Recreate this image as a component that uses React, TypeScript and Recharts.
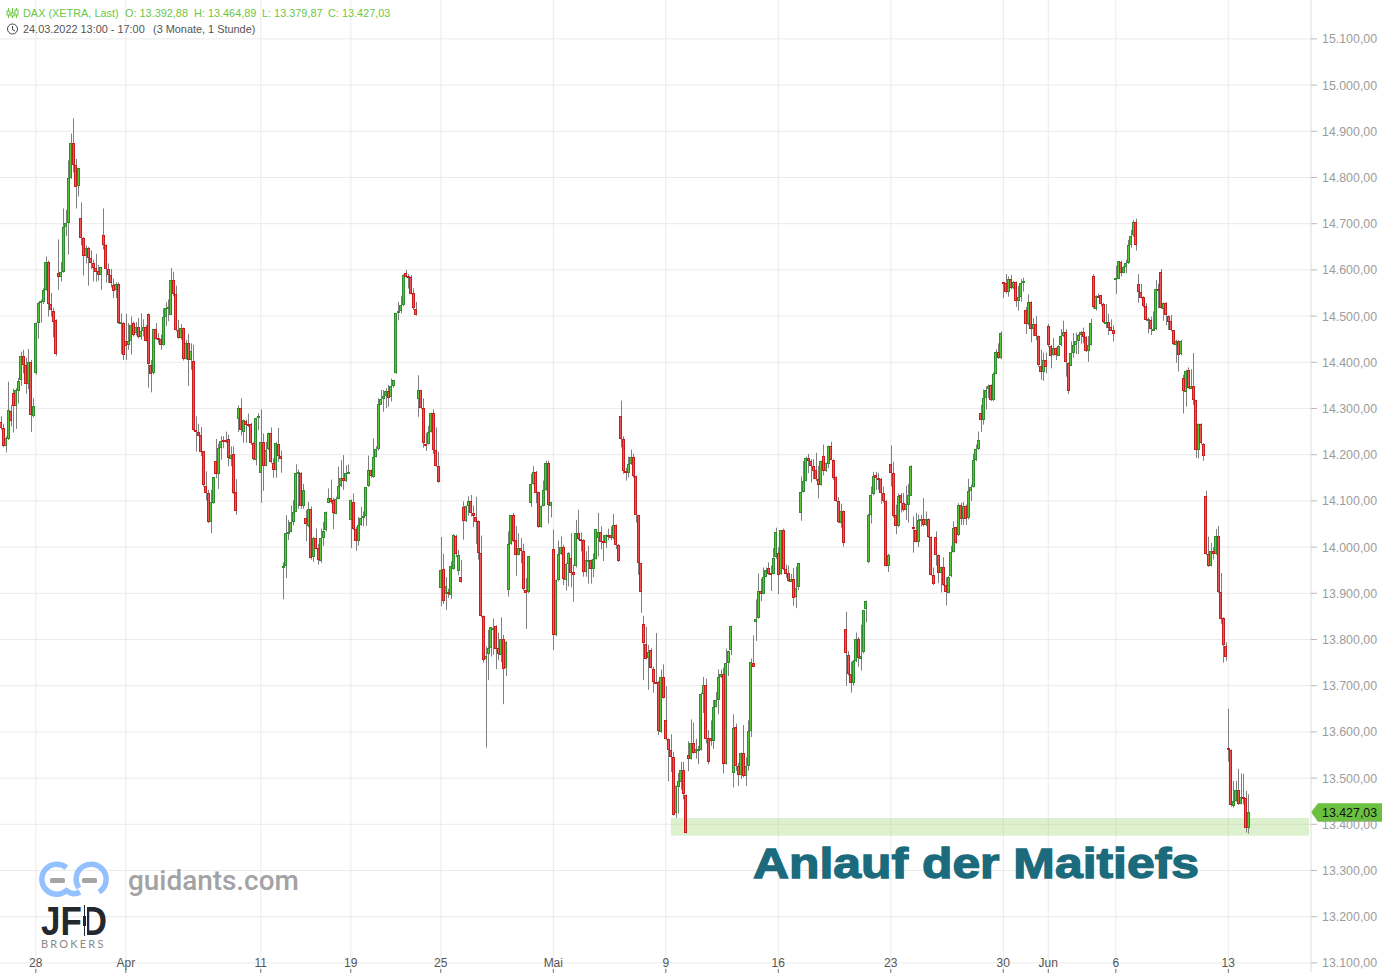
import React from 'react';
import { ComposedChart, Bar, XAxis, YAxis, CartesianGrid, ReferenceArea, ReferenceLine } from 'recharts';

type Q = [number, number, number, number]; // open, high, low, close

const lead: Q[] = [
[14270,14283,14254,14257],[14257,14267,14216,14218],[14218,14240,14205,14236],[14235,14358,14232,14297],[14295,14308,14261,14274],
[14333,14343,14248,14304],[14304,14344,14256,14339],[14339,14366,14311,14360],[14360,14423,14349,14413],[14413,14427,14376,14393],
[14394,14410,14332,14352],[14352,14429,14342,14400],[14400,14405,14249,14285],[14285,14322,14281,14306],
];
const weekMar28: Q[] = [
[14376,14486,14373,14485],[14485,14530,14451,14528],[14528,14536,14486,14532],[14532,14560,14526,14557],[14557,14629,14555,14617],[14617,14620,14499,14526],[14526,14550,14499,14512],[14512,14518,14454,14489],[14491,14493,14414,14417],
[14594,14666,14557,14586],[14586,14617,14575,14596],[14596,14733,14594,14693],[14693,14730,14673,14702],[14702,14837,14633,14799],[14799,14895,14797,14875],[14875,14928,14811,14828],[14828,14840,14733,14781],[14781,14820,14759,14820],
[14713,14746,14653,14669],[14669,14671,14588,14630],[14630,14653,14614,14648],[14648,14650,14566,14626],[14626,14642,14602,14615],[14615,14622,14575,14604],[14604,14635,14575,14596],[14597,14611,14577,14588],[14588,14606,14557,14606],
[14675,14733,14644,14653],[14653,14655,14573,14602],[14602,14614,14572,14588],[14588,14602,14562,14570],[14568,14581,14539,14556],[14556,14573,14539,14569],[14569,14573,14483,14485],[14483,14506,14418,14487],[14485,14487,14405,14415],
[14447,14505,14405,14437],[14437,14485,14427,14446],[14446,14499,14417,14480],[14485,14488,14456,14460],[14463,14487,14458,14476],[14476,14496,14452,14454],[14454,14506,14449,14467],[14467,14493,14456,14476],[14476,14481,14445,14446],
];
const weekApr4: Q[] = [
[14504,14506,14345,14395],[14395,14405,14335,14376],[14376,14472,14374,14472],[14472,14485,14449,14451],[14452,14463,14441,14450],[14450,14460,14427,14437],[14437,14517,14436,14498],[14498,14530,14478,14517],[14517,14536,14489,14519],
[14504,14604,14503,14579],[14579,14596,14543,14548],[14548,14566,14467,14469],[14469,14492,14451,14452],[14452,14483,14449,14474],[14474,14475,14404,14407],[14407,14448,14406,14441],[14441,14462,14349,14404],[14404,14441,14384,14424],
[14402,14438,14252,14253],[14254,14283,14207,14250],[14250,14267,14240,14241],[14243,14260,14197,14207],[14207,14208,14131,14133],[14133,14164,14101,14117],[14117,14124,14052,14054],[14054,14124,14030,14097],[14096,14152,14094,14152],
[14186,14234,14149,14157],[14157,14224,14126,14214],[14214,14240,14189,14229],[14231,14240,14214,14228],[14231,14250,14225,14229],[14233,14243,14175,14191],[14191,14218,14175,14199],[14202,14218,14115,14117],[14119,14147,14070,14077],
[14276,14307,14249,14300],[14300,14322,14242,14252],[14249,14276,14226,14276],[14274,14276,14226,14265],[14267,14289,14260,14266],[14267,14269,14221,14226],[14226,14227,14188,14191],[14189,14280,14177,14280],[14281,14290,14253,14284],
];
const weekApr11: Q[] = [
[14161,14298,14096,14228],[14228,14246,14122,14176],[14176,14228,14175,14211],[14211,14248,14210,14246],[14246,14259,14181,14183],[14183,14192,14150,14168],[14168,14227,14150,14226],[14224,14258,14185,14198],[14198,14209,14161,14191],
[13955,13967,13887,13960],[13959,14069,13933,14031],[14031,14059,14015,14033],[14033,14090,14032,14055],[14055,14102,14047,14077],[14077,14179,14076,14161],[14161,14168,14083,14162],[14161,14162,14083,14089],[14089,14137,14083,14124],
[14062,14080,14013,14048],[14047,14098,14043,14083],[14083,14088,13973,13978],[13978,14022,13968,14020],[14020,14040,13995,13997],[13997,14007,13962,13970],[13970,14040,13966,14020],[14020,14054,14002,14035],[14035,14077,14034,14075],
[14096,14127,14095,14107],[14107,14146,14094,14099],[14103,14107,14039,14074],[14072,14109,14071,14104],[14104,14174,14103,14133],[14133,14188,14130,14150],[14150,14199,14124,14143],[14143,14177,14141,14161],[14161,14179,14160,14163],
];
const weekApr19: Q[] = [
[14057,14103,13998,14101],[14098,14116,14037,14039],[14040,14044,13992,14013],[14013,14065,14003,14047],[14047,14087,14046,14062],[14062,14077,14045,14067],[14067,14130,14046,14130],[14132,14198,14130,14166],[14166,14168,14150,14152],
[14152,14235,14150,14195],[14195,14218,14194,14213],[14211,14322,14209,14309],[14309,14340,14308,14321],[14321,14340,14293,14327],[14327,14344,14301,14337],[14337,14351,14304,14322],[14324,14365,14315,14348],[14347,14362,14345,14361],
[14376,14506,14375,14506],[14506,14531,14491,14511],[14511,14543,14506,14523],[14523,14590,14522,14588],[14593,14600,14583,14585],[14586,14591,14560,14584],[14585,14589,14547,14549],[14549,14560,14513,14516],[14515,14531,14501,14502],
[14320,14372,14282,14339],[14339,14340,14299,14301],[14300,14322,14215,14224],[14224,14247,14208,14223],[14224,14262,14222,14249],[14249,14291,14248,14291],[14291,14298,14202,14211],[14211,14259,14174,14176],[14176,14206,14139,14141],
];
const weekApr25: Q[] = [
[13911,14022,13872,13951],[13953,13986,13877,13883],[13899,13935,13864,13916],[13903,13910,13890,13898],[13897,13969,13888,13960],[13953,14028,13951,14026],[14025,14027,13978,13987],[13948,13994,13939,13982],[13935,13972,13923,13924],
[14087,14099,14016,14056],[14056,14090,14054,14088],[14088,14110,14068,14099],[14100,14113,14066,14073],[14073,14090,14043,14066],[14066,14109,14007,14056],[14056,14058,13973,13987],[13987,14025,13848,13850],[13850,13852,13750,13754],
[13758,13785,13566,13764],[13767,13821,13712,13781],[13781,13827,13763,13826],[13824,13845,13767,13825],[13830,13831,13736,13781],[13781,13815,13755,13767],[13767,13848,13751,13801],[13801,13810,13660,13737],[13737,13796,13721,13794],
[13907,14034,13893,14006],[14006,14070,14005,14069],[14069,14074,14011,14013],[14015,14046,13938,13983],[13983,14030,13982,13998],[13998,14020,13965,13991],[13991,14007,13906,13908],[13908,13933,13823,13902],[13902,13980,13900,13980],
[14095,14159,14087,14137],[14137,14175,14135,14163],[14163,14165,14095,14118],[14119,14120,14042,14043],[14043,14090,14042,14089],[14089,14144,14088,14124],[14124,14187,14122,14182],[14182,14187,14051,14092],[14090,14098,14064,14098],
];
const weekMay2: Q[] = [
[13996,14038,13777,13809],[13809,13930,13807,13928],[13928,14014,13926,13985],[13985,14023,13983,14000],[14000,14005,13918,13930],[13930,13966,13906,13964],[13964,13989,13915,13987],[13977,14030,13913,13945],[13946,13962,13882,13939],
[13958,14059,13956,14030],[14030,14081,14015,14017],[14017,14032,13991,14014],[14016,14017,13936,13946],[13946,13991,13936,13971],[13970,14003,13921,13971],[13971,13973,13921,13952],[13952,13986,13935,13974],[13974,14039,13973,14039],
[14021,14074,13980,14033],[14033,14045,13995,14012],[14013,14027,13970,14009],[14009,14028,13998,14027],[14027,14040,14015,14025],[14026,14045,14015,14019],[14019,14072,14017,14047],[14047,14049,13996,14004],[14004,14007,13968,13970],
[14283,14317,14216,14234],[14234,14240,14159,14165],[14165,14172,14144,14160],[14160,14196,14151,14180],[14180,14211,14178,14195],[14195,14202,14150,14153],[14154,14155,14053,14069],[14069,14070,13940,13965],[13965,13966,13858,13902],
[13833,13851,13712,13791],[13791,13827,13757,13759],[13759,13788,13691,13772],[13777,13781,13737,13739],[13737,13741,13685,13709],[13709,13814,13705,13706],[13708,13710,13593,13602],[13600,13735,13598,13719],[13719,13746,13672,13674],
];
const weekMay9: Q[] = [
[13626,13699,13582,13584],[13585,13586,13493,13561],[13561,13595,13513,13545],[13546,13557,13419,13421],[13423,13484,13414,13482],[13480,13511,13423,13493],[13493,13535,13475,13518],[13518,13535,13454,13465],[13464,13465,13380,13381],
[13550,13580,13515,13541],[13541,13627,13540,13576],[13576,13620,13553,13554],[13554,13585,13542,13563],[13561,13570,13530,13563],[13561,13685,13560,13683],[13682,13719,13641,13702],[13702,13715,13575,13585],[13587,13604,13530,13535],
[13587,13625,13570,13580],[13580,13669,13563,13654],[13654,13686,13653,13670],[13670,13735,13638,13719],[13719,13735,13717,13726],[13726,13739,13510,13531],[13531,13780,13529,13749],[13749,13776,13721,13776],[13776,13830,13766,13829],
[13511,13638,13480,13609],[13610,13618,13516,13526],[13526,13533,13483,13506],[13506,13555,13498,13554],[13554,13615,13502,13504],[13504,13545,13483,13526],[13526,13625,13516,13602],[13602,13759,13589,13751],[13750,13809,13740,13741],
[13838,13887,13797,13845],[13847,13943,13845,13905],[13905,13932,13883,13899],[13899,13956,13898,13936],[13936,13956,13935,13951],[13954,13967,13940,13941],[13943,13960,13905,13940],[13943,13998,13941,13977],[13977,14042,13975,14032],
];
const weekMay16: Q[] = [
[13988,14000,13898,13941],[13941,14037,13940,14036],[14036,14040,13950,13951],[13952,13962,13934,13942],[13943,13960,13925,13925],[13925,13942,13924,13932],[13932,13955,13873,13890],[13892,13958,13868,13912],[13912,13966,13907,13965],
[14073,14153,14057,14119],[14119,14186,14118,14143],[14143,14196,14142,14193],[14193,14202,14160,14186],[14186,14190,14140,14175],[14176,14190,14147,14166],[14167,14204,14143,14147],[14147,14176,14105,14134],[14134,14187,14133,14186],
[14197,14222,14155,14164],[14164,14183,14163,14181],[14181,14220,14171,14219],[14219,14228,14188,14189],[14189,14190,14146,14151],[14152,14153,14098,14099],[14099,14108,14052,14053],[14053,14094,14042,14078],[14078,14079,14001,14009],
[13822,13860,13700,13770],[13766,13775,13722,13724],[13725,13752,13685,13705],[13705,13756,13700,13753],[13753,13815,13751,13801],[13801,13805,13741,13759],[13759,13832,13733,13765],[13772,13864,13770,13863],[13866,13884,13837,13883],
[13967,14072,13965,14069],[14069,14131,14051,14113],[14113,14163,14112,14153],[14156,14163,14124,14149],[14150,14161,14124,14147],[14148,14150,14094,14117],[14117,14131,14097,14100],[14100,14101,13958,13959],[13959,13986,13946,13983],
];
const weekMay23: Q[] = [
[14180,14220,14131,14160],[14160,14185,14064,14066],[14069,14092,14028,14045],[14045,14116,14043,14110],[14113,14117,14075,14095],[14095,14117,14077,14079],[14079,14133,14059,14093],[14090,14137,14053,14112],[14112,14177,14111,14176],
[14043,14066,13988,14039],[14037,14074,14010,14012],[14012,14070,14000,14059],[14058,14070,14045,14061],[14060,14106,14045,14048],[14048,14077,14045,14060],[14060,14062,14020,14022],[14022,14023,13938,13939],[13939,13956,13918,13919],
[14022,14034,13960,13983],[13983,13984,13922,13944],[13944,13958,13902,13957],[13957,13978,13916,13918],[13918,13935,13874,13902],[13901,13937,13900,13936],[13936,14003,13935,13989],[13989,14056,13988,14041],[14043,14044,14007,14009],
[14026,14095,14024,14091],[14091,14096,14048,14060],[14060,14098,14048,14088],[14089,14092,14048,14060],[14062,14148,14060,14121],[14121,14135,14100,14130],[14130,14202,14129,14189],[14189,14222,14186,14212],[14212,14250,14210,14232],
];
const weekMay30: Q[] = [
[14290,14308,14249,14275],[14275,14341,14265,14323],[14323,14348,14298,14341],[14341,14352,14323,14348],[14350,14352,14316,14318],[14318,14378,14316,14375],[14375,14428,14374,14423],[14423,14441,14407,14409],[14409,14467,14407,14464],
[14573,14574,14539,14571],[14571,14591,14549,14551],[14551,14586,14542,14580],[14580,14589,14558,14560],[14560,14576,14558,14573],[14573,14575,14520,14532],[14532,14565,14512,14541],[14541,14580,14531,14571],[14571,14583,14553,14576],
[14513,14520,14461,14482],[14482,14547,14480,14530],[14530,14532,14443,14472],[14472,14495,14457,14482],[14482,14500,14448,14456],[14456,14458,14391,14393],[14393,14427,14362,14380],[14378,14421,14360,14404],[14404,14421,14376,14389],
[14478,14483,14433,14436],[14436,14438,14387,14415],[14415,14452,14414,14430],[14430,14432,14405,14415],[14415,14437,14414,14436],[14436,14472,14435,14456],[14456,14490,14455,14465],[14465,14472,14369,14400],[14399,14400,14331,14339],
[14393,14445,14392,14421],[14421,14463,14410,14438],[14438,14464,14418,14446],[14446,14461,14418,14459],[14459,14468,14440,14465],[14465,14475,14441,14454],[14454,14457,14422,14423],[14423,14457,14401,14437],[14437,14494,14436,14485],
];
const weekJun6: Q[] = [
[14586,14591,14516,14518],[14516,14545,14512,14544],[14544,14549,14540,14542],[14545,14546,14521,14525],[14526,14529,14485,14486],[14486,14526,14474,14488],[14488,14505,14459,14476],[14477,14493,14468,14469],[14469,14480,14445,14460],
[14577,14609,14548,14582],[14581,14619,14580,14619],[14617,14620,14586,14594],[14594,14608,14593,14606],[14606,14622,14593,14615],[14615,14665,14613,14654],[14654,14687,14648,14674],[14674,14708,14672,14703],[14703,14711,14642,14653],
[14569,14591,14529,14551],[14552,14570,14538,14540],[14541,14543,14519,14521],[14521,14528,14489,14490],[14491,14497,14463,14493],[14492,14499,14459,14472],[14471,14510,14469,14473],[14472,14578,14470,14558],[14558,14570,14517,14556],
[14595,14602,14516,14518],[14516,14530,14490,14528],[14528,14530,14480,14501],[14501,14502,14470,14489],[14489,14503,14467,14469],[14469,14470,14437,14439],[14439,14449,14399,14447],[14447,14448,14380,14417],[14417,14448,14415,14446],
[14365,14373,14289,14337],[14337,14384,14304,14382],[14383,14389,14343,14344],[14343,14385,14342,14349],[14349,14420,14308,14318],[14318,14319,14193,14209],[14209,14268,14192,14266],[14266,14268,14222,14224],[14224,14225,14187,14198],
];
const weekJun13: Q[] = [
[14111,14122,13983,13985],[13985,14023,13957,13959],[13959,14009,13958,13991],[13991,14000,13973,13984],[13984,14039,13983,14024],[14024,14046,13901,13902],[13902,13944,13834,13844],[13846,13848,13750,13788],[13785,13794,13754,13761],
[13565,13650,13536,13560],[13560,13562,13438,13440],[13440,13494,13436,13451],[13451,13494,13449,13474],[13474,13520,13442,13444],[13444,13510,13443,13460],[13460,13509,13443,13456],[13456,13472,13382,13391],[13392.88,13464.89,13379.87,13427.03],
];

const candleRows: Q[] = [...lead, ...weekMar28, ...weekApr4, ...weekApr11, ...weekApr19, ...weekApr25, ...weekMay2, ...weekMay9, ...weekMay16, ...weekMay23, ...weekMay30, ...weekJun6, ...weekJun13];

const dateTickIndex = [14, 50, 104, 140, 176, 221, 266, 311, 356, 401, 419, 446, 491];
const dateTickLabels = ['28', 'Apr', '11', '19', '25', 'Mai', '9', '16', '23', '30', 'Jun', '6', '13'];
const priceTicks = [13100, 13200, 13300, 13400, 13500, 13600, 13700, 13800, 13900, 14000, 14100, 14200, 14300, 14400, 14500, 14600, 14700, 14800, 14900, 15000, 15100];
const lastPrice = 13427.03;
const zoneLow = 13375;
const zoneHigh = 13413.5;
const zoneFrom = 268;
const zoneTo = 523.3;

const chartData = candleRows.map(([o, h, l, c], i) => ({
  i,
  range: [l, h],
  body: [Math.min(o, c), Math.max(o, c)],
  up: c >= o,
}));

const fmt = (v: number) => v.toLocaleString('de-DE', { minimumFractionDigits: 2, maximumFractionDigits: 2 });

const Wick = (p: any) => {
  const cx = Math.floor(p.x + p.width / 2);
  return <rect x={cx} y={p.y} width={1} height={Math.max(p.height, 1)} fill="#808080" />;
};
const body = (up: boolean) => (p: any) => {
  if (p.payload.up !== up) return <g />;
  const cx = Math.floor(p.x + p.width / 2) + 0.5;
  return (
    <rect x={cx - 1} y={Math.round(p.y) + 0.5} width={2} height={Math.max(Math.round(p.height) - 1, 1)}
      fill={up ? '#58c63a' : '#ee5555'} stroke={up ? '#2e8b2e' : '#c41e1e'} strokeWidth={1} />
  );
};

const DateTick = (p: any) => {
  const k = dateTickIndex.indexOf(p.payload.value);
  return (
    <g>
      <line x1={p.x} x2={p.x} y1={969} y2={973} stroke="#777" />
      <text x={p.x} y={967} textAnchor="middle" fontSize={12} fill="#555" fontFamily="Liberation Sans">{dateTickLabels[k]}</text>
    </g>
  );
};

const PriceTag = (p: any) => {
  const right = p.viewBox.x + p.viewBox.width;
  const y = p.viewBox.y;
  return (
    <g>
      <path d={`M${right} ${y + 0.5} L${right + 7} ${y - 8.5} H${right + 71} V${y + 10} H${right + 7} Z`} fill="#6cc040" />
      <text x={right + 11} y={y + 5} fontSize={12.4} fill="#111" fontFamily="Liberation Sans">{fmt(lastPrice)}</text>
    </g>
  );
};

const Logo = () => (
  <svg width={1382} height={973} style={{ position: 'absolute', left: 0, top: 0, pointerEvents: 'none' }}>
    <g fontFamily="Liberation Sans" fontSize={10.9}>
      <g stroke="#6cc644" strokeWidth={1}>
        <line x1={8.5} y1={8} x2={8.5} y2={18} /><line x1={12.5} y1={8} x2={12.5} y2={18} /><line x1={16.5} y1={8} x2={16.5} y2={18} />
        <rect x={7} y={11} width={3} height={4} fill="#fff" /><rect x={11} y={13} width={3} height={3} fill="#fff" /><rect x={15} y={10} width={3} height={5} fill="#fff" />
      </g>
      <text x={23} y={17} fill="#6cc644">DAX (XETRA, Last)</text>
      <text x={125} y={17} fill="#6cc644">O: 13.392,88</text>
      <text x={194} y={17} fill="#6cc644">H: 13.464,89</text>
      <text x={262} y={17} fill="#6cc644">L: 13.379,87</text>
      <text x={328} y={17} fill="#6cc644">C: 13.427,03</text>
      <circle cx={12.5} cy={29} r={5} fill="none" stroke="#444" strokeWidth={1} />
      <path d="M12.5 26 V29.5 L15 31" fill="none" stroke="#444" strokeWidth={1} />
      <text x={23} y={33} fill="#555">24.03.2022 13:00 - 17:00</text>
      <text x={153} y={33} fill="#555">(3 Monate, 1 Stunde)</text>
    </g>
    <path d="M66.5 867.7 A15 15 0 1 0 66.5 890.7 Q73 896 80 892" fill="none" stroke="#93c0ff" strokeWidth={5.5} />
    <path d="M79 888 A15 15 0 1 1 99 892" fill="none" stroke="#93c0ff" strokeWidth={5.5} />
    <rect x={50} y={878} width={15} height={5} rx={1.5} fill="#a5a5a5" />
    <rect x={82} y={878} width={15} height={5} rx={1.5} fill="#a5a5a5" />
    <text x={128} y={890} fontSize={27.9} fontWeight={500} fill="#a3a3a3" fontFamily="Roboto">guidants.com</text>
    <text x={41} y={935} fontSize={40} fontWeight={700} fill="#23282e" fontFamily="Liberation Sans" textLength={66} lengthAdjust="spacingAndGlyphs">JFD</text>
    <rect x={82} y={905} width={5} height={31} fill="#fff" />
    <rect x={84} y={905} width={1} height={31} fill="#23282e" />
    <rect x={83} y={916} width={3} height={10} fill="#23282e" />
    <text x={41} y={948} fontSize={11} fill="#8a8a8a" fontFamily="Lato" letterSpacing={2.2}>BROKERS</text>
    <text x={753} y={878} fontSize={42} fontWeight={700} fill="#1b6b7d" stroke="#1b6b7d" strokeWidth={1.3} fontFamily="Liberation Sans" textLength={446} lengthAdjust="spacingAndGlyphs">Anlauf der Maitiefs</text>
  </svg>
);

export default function App() {
  return (
    <div style={{ position: 'absolute', left: 0, top: 0, width: 1382, height: 973, background: '#fff', overflow: 'hidden' }}>
      <ComposedChart width={1382} height={973} data={chartData} margin={{ top: 0, right: 0, bottom: 0, left: 0 }}>
        <CartesianGrid xAxisId="wick" stroke="#ebebeb" verticalValues={dateTickIndex} horizontalValues={priceTicks} />
        <XAxis xAxisId="wick" dataKey="i" type="number" domain={[-0.32, 524.08]} ticks={dateTickIndex} interval={0} height={1} axisLine={false} tickLine={false} tick={DateTick} allowDataOverflow />
        <XAxis xAxisId="up" dataKey="i" type="number" domain={[-0.32, 524.08]} ticks={dateTickIndex} hide allowDataOverflow />
        <XAxis xAxisId="down" dataKey="i" type="number" domain={[-0.32, 524.08]} ticks={dateTickIndex} hide allowDataOverflow />
        <YAxis orientation="right" width={71} domain={[13080.3, 15184.2]} ticks={priceTicks} interval={0} allowDataOverflow
          axisLine={{ stroke: '#ddd' }} tickLine={{ stroke: '#bbb' }} tickSize={6} tickMargin={5} tickFormatter={fmt}
          tick={{ fill: '#9c9c9c', fontSize: 12.4, fontFamily: 'Liberation Sans' }} />
        <Bar xAxisId="wick" dataKey="range" barSize={1} shape={Wick} isAnimationActive={false} />
        <Bar xAxisId="up" dataKey="body" barSize={3} shape={body(true)} isAnimationActive={false} />
        <Bar xAxisId="down" dataKey="body" barSize={3} shape={body(false)} isAnimationActive={false} />
        <ReferenceArea xAxisId="wick" x1={zoneFrom} x2={zoneTo} y1={zoneLow} y2={zoneHigh} fill="#8fcf60" fillOpacity={0.3} stroke="none" ifOverflow="visible" />
        <ReferenceLine xAxisId="wick" y={lastPrice} stroke="none" label={PriceTag} ifOverflow="visible" />
      </ComposedChart>
      <Logo />
    </div>
  );
}
